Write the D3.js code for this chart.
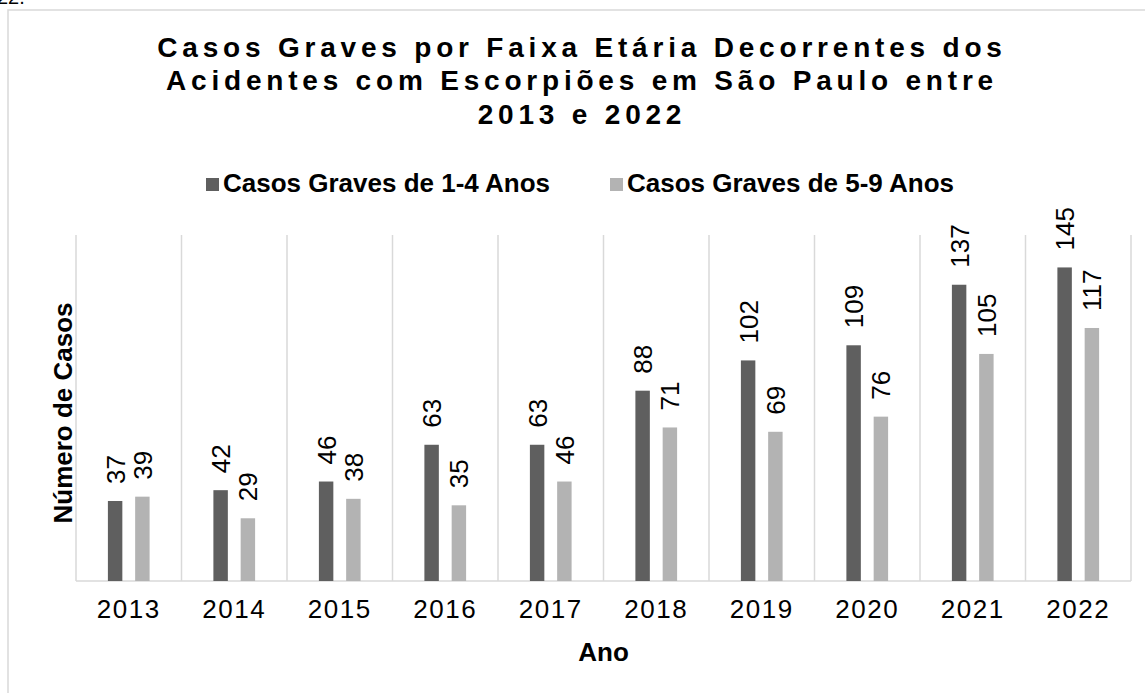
<!DOCTYPE html>
<meta charset="utf-8">
<style>
body { margin: 0; background: #fff; }
svg { font-family: Arial, "Liberation Sans", sans-serif; }
.grid line { stroke: #d9d9d9; stroke-width: 1.5px; }
.axis--x path, .axis--x line { display: none; }
.axis--x text { font-size: 26px; letter-spacing: 1.5px; fill: #000; font-family: Arial, "Liberation Sans", sans-serif; }
.label { font-size: 26px; fill: #000; }
</style>
<svg width="1145" height="693"></svg>
<script src="https://cdn.jsdelivr.net/npm/d3@7"></script>
<script>

var years = ["2013", "2014", "2015", "2016", "2017", "2018", "2019", "2020", "2021", "2022"];
var seriesNames = ["Casos Graves de 1-4 Anos", "Casos Graves de 5-9 Anos"];
var cases1to4 = [37, 42, 46, 63, 63, 88, 102, 109, 137, 145];
var cases5to9 = [39, 29, 38, 35, 46, 71, 69, 76, 105, 117];
var titleLines = ["Casos Graves por Faixa Etária Decorrentes dos",
                  "Acidentes com Escorpiões em São Paulo entre",
                  "2013 e 2022"];

var svg = d3.select("svg"),
    margin = {top: 235, right: 14, bottom: 112, left: 76},
    width = 1145 - margin.left - margin.right,
    height = 693 - margin.top - margin.bottom,
    g = svg.append("g").attr("transform", "translate(" + margin.left + "," + margin.top + ")");

var color = d3.scaleOrdinal().domain(seriesNames).range(["#5f5f5f", "#b3b3b3"]);

var x0 = d3.scaleBand().domain(years).range([0, width]).padding(0);
var x1 = d3.scaleBand().domain(seriesNames).range([0, x0.bandwidth()])
    .paddingInner(0.47).paddingOuter(1.17);
var y = d3.scaleLinear().domain([0, 160]).range([height, 0]);

var data = years.map(function(yr, i) {
  return {year: yr, values: [
    {key: seriesNames[0], value: cases1to4[i]},
    {key: seriesNames[1], value: cases5to9[i]}
  ]};
});

// outer chart border (runs off the page on the right and bottom)
svg.append("rect")
    .attr("x", 8).attr("y", 10)
    .attr("width", 1200).attr("height", 800)
    .attr("fill", "none").attr("stroke", "#d9d9d9").attr("stroke-width", 1.5);

// leftover text from above the chart
svg.append("text").attr("x", -3).attr("y", 4)
    .style("font-size", "20px").text("22.");

// vertical category separators
g.append("g").attr("class", "grid")
  .selectAll("line")
  .data(years.concat(["end"]))
  .enter().append("line")
    .attr("x1", function(d) { return d === "end" ? width : x0(d); })
    .attr("x2", function(d) { return d === "end" ? width : x0(d); })
    .attr("y1", 0).attr("y2", height);

g.append("g").attr("class", "grid")
  .append("line").attr("x1", 0).attr("x2", width).attr("y1", height).attr("y2", height);

var yearG = g.selectAll(".year")
  .data(data)
  .enter().append("g")
    .attr("class", "year")
    .attr("transform", function(d) { return "translate(" + x0(d.year) + ",0)"; });

yearG.selectAll("rect")
  .data(function(d) { return d.values; })
  .enter().append("rect")
    .attr("x", function(d) { return x1(d.key); })
    .attr("y", function(d) { return y(d.value); })
    .attr("width", x1.bandwidth())
    .attr("height", function(d) { return height - y(d.value); })
    .attr("fill", function(d) { return color(d.key); });

yearG.selectAll(".label")
  .data(function(d) { return d.values; })
  .enter().append("text")
    .attr("class", "label")
    .attr("transform", function(d) {
      return "translate(" + (x1(d.key) + x1.bandwidth() / 2 + 9.5) + "," + (y(d.value) - 17) + ") rotate(-90)";
    })
    .text(function(d) { return d.value; });

g.append("g")
    .attr("class", "axis axis--x")
    .attr("transform", "translate(0," + height + ")")
    .call(d3.axisBottom(x0).tickSize(0).tickPadding(19));

// axis titles
svg.append("text")
    .attr("x", margin.left + width / 2).attr("y", 661)
    .attr("text-anchor", "middle")
    .style("font-size", "26px").style("font-weight", "bold")
    .text("Ano");

svg.append("text")
    .attr("transform", "translate(72,413) rotate(-90)")
    .attr("text-anchor", "middle")
    .style("font-size", "26px").style("font-weight", "bold")
    .text("Número de Casos");

// title
svg.append("g").selectAll("text")
  .data(titleLines)
  .enter().append("text")
    .attr("x", 582)
    .attr("y", function(d, i) { return 57 + i * 33.4; })
    .attr("text-anchor", "middle")
    .style("font-size", "28px").style("font-weight", "bold")
    .style("letter-spacing", "4.8px")
    .text(function(d) { return d; });

// legend
var legendX = [206, 610];
var legend = svg.selectAll(".legend")
  .data(seriesNames)
  .enter().append("g")
    .attr("class", "legend")
    .attr("transform", function(d, i) { return "translate(" + legendX[i] + ",178)"; });

legend.append("rect")
    .attr("width", 13).attr("height", 13)
    .attr("fill", function(d) { return color(d); });

legend.append("text")
    .attr("x", 17).attr("y", 14)
    .style("font-size", "26px").style("font-weight", "bold")
    .text(function(d) { return d; });

</script>
